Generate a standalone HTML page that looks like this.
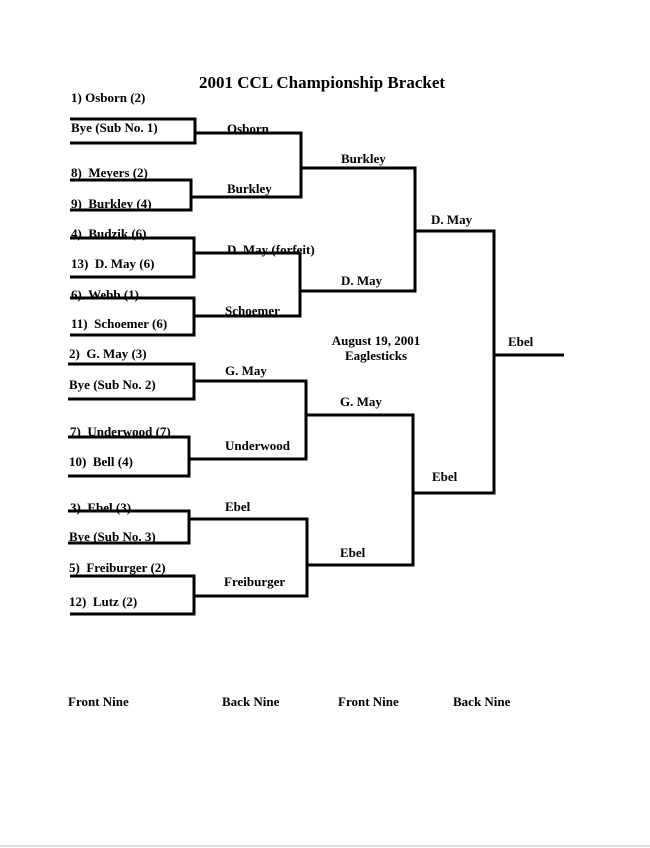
<!DOCTYPE html>
<html><head><style>
html,body{margin:0;padding:0;background:#fff;}
svg{display:block;}
text{font-family:"Liberation Serif",serif;font-weight:bold;font-size:13px;fill:#000;white-space:pre;}
</style></head><body>
<svg width="650" height="848" viewBox="0 0 650 848">
<g stroke="#000" stroke-width="3" fill="none">
<path d="M70 119H195V143H70"/>
<path d="M70 180H191V210H70"/>
<path d="M70 238H194V277H70"/>
<path d="M70 298H194V335H70"/>
<path d="M68 364H194V399H68"/>
<path d="M68 437H189V476H68"/>
<path d="M68 511H189V543H68"/>
<path d="M70 576H194V614H70"/>
<path d="M195 133H301V197H191"/>
<path d="M194 253H300V316H194"/>
<path d="M194 381H306V459H189"/>
<path d="M189 519H307V596H194"/>
<path d="M301 168H415V291H300"/>
<path d="M306 415H413V565H307"/>
<path d="M415 231H494V493H413"/>
<path d="M494 355H564"/>
</g>
<line x1="0" y1="846" x2="650" y2="846" stroke="#bbb" stroke-width="1"/>
<text x="322" y="88" text-anchor="middle" style="font-size:17px">2001 CCL Championship Bracket</text>
<text x="71" y="102">1) Osborn (2)</text>
<text x="71" y="132">Bye (Sub No. 1)</text>
<text x="71" y="177">8)  Meyers (2)</text>
<text x="71" y="208">9)  Burkley (4)</text>
<text x="71" y="238">4)  Budzik (6)</text>
<text x="71" y="268">13)  D. May (6)</text>
<text x="71" y="299">6)  Webb (1)</text>
<text x="71" y="328">11)  Schoemer (6)</text>
<text x="69" y="358">2)  G. May (3)</text>
<text x="69" y="389">Bye (Sub No. 2)</text>
<text x="70" y="436">7)  Underwood (7)</text>
<text x="69" y="466">10)  Bell (4)</text>
<text x="70" y="512">3)  Ebel (3)</text>
<text x="69" y="541">Bye (Sub No. 3)</text>
<text x="69" y="572">5)  Freiburger (2)</text>
<text x="69" y="606">12)  Lutz (2)</text>
<text x="227" y="133">Osborn</text>
<text x="227" y="193">Burkley</text>
<text x="227" y="254">D. May (forfeit)</text>
<text x="225" y="315">Schoemer</text>
<text x="225" y="375">G. May</text>
<text x="225" y="450">Underwood</text>
<text x="225" y="511">Ebel</text>
<text x="224" y="586">Freiburger</text>
<text x="341" y="163">Burkley</text>
<text x="341" y="285">D. May</text>
<text x="340" y="406">G. May</text>
<text x="340" y="557">Ebel</text>
<text x="431" y="224">D. May</text>
<text x="432" y="481">Ebel</text>
<text x="508" y="346">Ebel</text>
<text x="376" y="345" text-anchor="middle">August 19, 2001</text>
<text x="376" y="360" text-anchor="middle">Eaglesticks</text>
<text x="68" y="706">Front Nine</text>
<text x="222" y="706">Back Nine</text>
<text x="338" y="706">Front Nine</text>
<text x="453" y="706">Back Nine</text>
</svg>
</body></html>
